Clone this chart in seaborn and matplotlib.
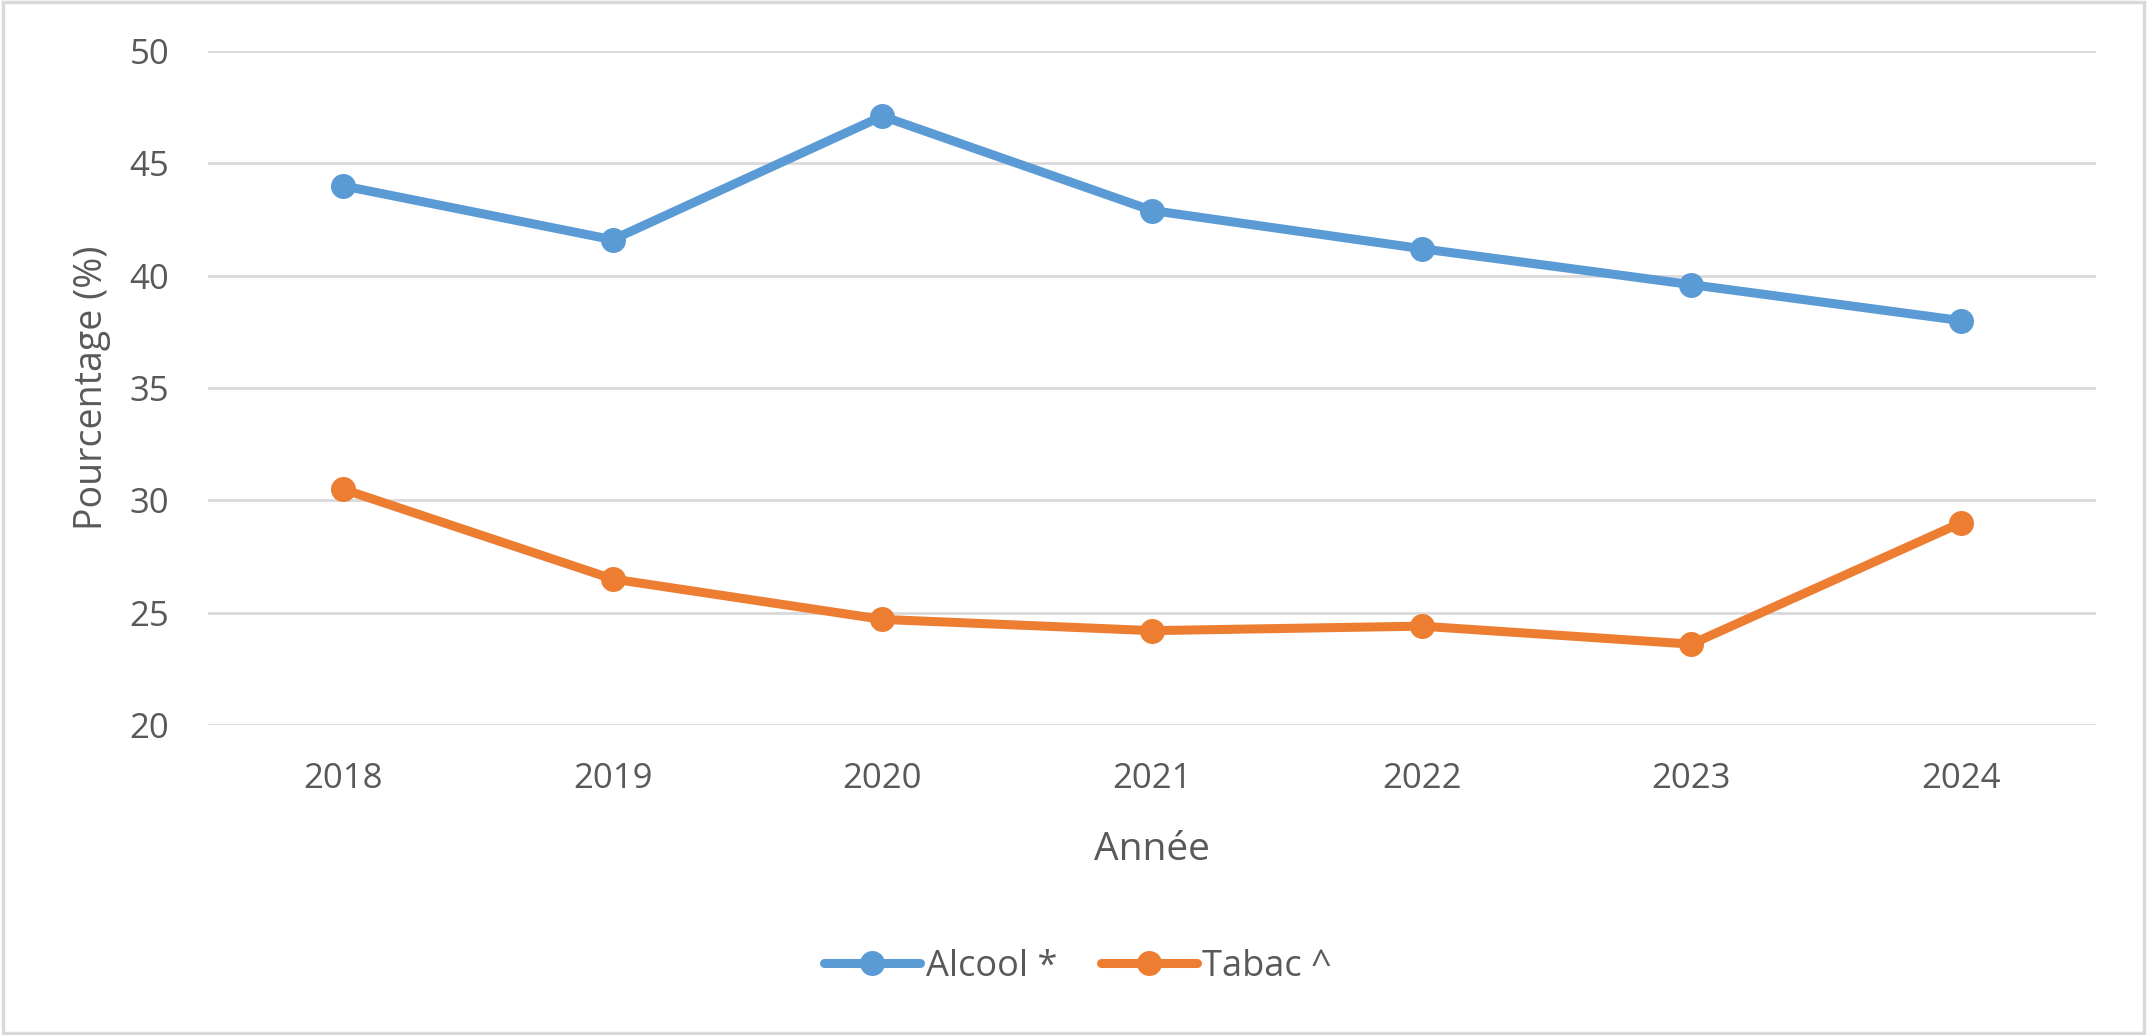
import matplotlib
matplotlib.use("Agg")
import matplotlib.pyplot as plt
import seaborn as sns
import pandas as pd
from matplotlib.patches import Rectangle

years = ["2018", "2019", "2020", "2021", "2022", "2023", "2024"]
alcool = [44.0, 41.6, 47.1, 42.9, 41.2, 39.6, 38.0]
tabac = [30.5, 26.5, 24.7, 24.2, 24.4, 23.6, 29.0]
series_names = ["Alcool *", "Tabac ^"]
colors = ["#5B9BD5", "#ED7D31"]
yticks = [20, 25, 30, 35, 40, 45, 50]

df = pd.concat([
    pd.DataFrame({"Année": years, "Pourcentage": alcool, "Série": series_names[0]}),
    pd.DataFrame({"Année": years, "Pourcentage": tabac, "Série": series_names[1]}),
])

sns.set_theme(style="white")
plt.rcParams["font.family"] = ["Open Sans", "DejaVu Sans"]
text_color = "#595959"

W, H = 2147, 1035
fig = plt.figure(figsize=(W / 100, H / 100), dpi=100)
ax = fig.add_axes([208 / W, 1 - 725 / H, (2096 - 208) / W, (725 - 51) / H])

sns.lineplot(data=df, x="Année", y="Pourcentage", hue="Série", palette=colors,
             marker="o", markersize=18, markeredgewidth=0, linewidth=6.5,
             sort=False, ax=ax, legend=True)

ax.set_xlim(-0.5, 6.5)
ax.set_ylim(20, 50)
ax.set_yticks(yticks)
ax.yaxis.grid(True, color="#D9D9D9", linewidth=2)
ax.xaxis.grid(False)
for s in ax.spines.values():
    s.set_visible(False)
ax.tick_params(axis="both", length=0, labelsize=25, labelcolor=text_color)
ax.tick_params(axis="y", pad=28)
ax.tick_params(axis="x", pad=27)
ax.set_xlabel("Année", fontsize=28, color=text_color, labelpad=25)
ax.set_ylabel("Pourcentage (%)", fontsize=27, color=text_color, labelpad=13)

ax.get_legend().remove()
handles, labels = ax.get_legend_handles_labels()
fig.legend(handles, labels, loc="center", bbox_to_anchor=(1078 / W, 1 - 967 / H),
           ncol=2, frameon=False, fontsize=26, handlelength=2.66, handletextpad=0.15,
           columnspacing=1.2, labelcolor=text_color)

fig.patches.append(Rectangle((0.0015, 0.002), 0.997, 0.996, transform=fig.transFigure,
                             fill=False, edgecolor="#D9D9D9", linewidth=2.5))

fig.savefig("out.png", dpi=100, facecolor="white")
